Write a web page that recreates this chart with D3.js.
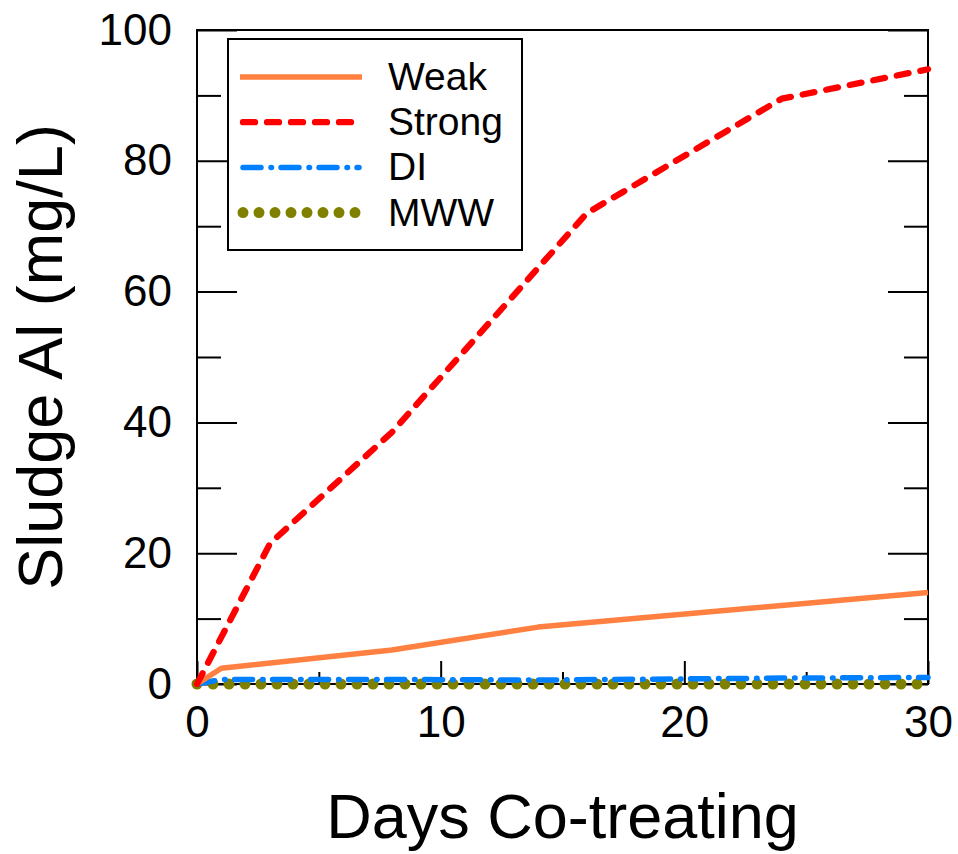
<!DOCTYPE html>
<html>
<head>
<meta charset="utf-8">
<script src="https://cdn.jsdelivr.net/npm/d3@7"></script>
<style>
	body { margin: 0; background: #fff; }
	text { font-family: "Liberation Sans", Arial, sans-serif; fill: #000; }
</style>
</head>
<body>
<div id="chart"></div>
<script>
// values
var weakDays = [0, 1, 8, 14, 30];
var weakAl = [0, 2.4, 5.2, 8.7, 14];

var strongDays = [0, 3, 8, 16, 24, 30];
var strongAl = [0, 21.5, 38.5, 72, 89.5, 94];

var diDays = [0, 1, 8, 14, 24, 30];
var diAl = [0, 0.7, 0.7, 0.6, 0.9, 1.0];

var mwwDays = [0, 30];
var mwwAl = [0, 0];

var seriesNames = ["Weak", "Strong", "DI", "MWW"];

var xMajor = [0, 10, 20, 30],
	xMinor = [5, 15, 25],
	yMajor = [0, 20, 40, 60, 80, 100],
	yMinor = [10, 30, 50, 70, 90];

var width = 958,
	height = 854,
	margin = {
		left: 197,
		top: 30,
		right: 30,
		bottom: 170
	};

var plotW = width - margin.left - margin.right,
	plotH = height - margin.top - margin.bottom;

var styles = {
	Weak: { color: "#ff8040", width: 5.5, dash: null, cap: "butt" },
	Strong: { color: "#ff0000", width: 6.3, dash: "12 12", cap: "round" },
	DI: { color: "#0080ff", width: 5.5, dash: "18 10 0.5 9.5", cap: "round" },
	MWW: { color: "#808000", width: 11, dash: "0 16", cap: "round" }
};

var series = {
	Weak: weakDays.map(function(d, i) { return { x: d, y: weakAl[i] }; }),
	Strong: strongDays.map(function(d, i) { return { x: d, y: strongAl[i] }; }),
	DI: diDays.map(function(d, i) { return { x: d, y: diAl[i] }; }),
	MWW: mwwDays.map(function(d, i) { return { x: d, y: mwwAl[i] }; })
};

var x = d3.scaleLinear().domain([0, 30]).range([0, plotW]);
var y = d3.scaleLinear().domain([0, 100]).range([plotH, 0]);

var svg = d3.select('#chart').append('svg')
	.attr('width', width)
	.attr('height', height);

var g = svg.append('g')
	.attr('transform', 'translate(' + margin.left + ',' + margin.top + ')');

// ticks inside the frame, major and minor
function styleAxis(sel) {
	sel.select('.domain').remove();
	sel.selectAll('line').attr('stroke', '#000').attr('stroke-width', 2);
	sel.selectAll('text')
		.style('font-family', '"Liberation Sans", Arial, sans-serif')
		.style('font-size', '44px')
		.attr('fill', '#000');
}

g.append('g')
	.call(d3.axisLeft(y).tickValues(yMajor).tickSize(-40).tickPadding(25).tickFormat(d3.format('d')))
	.call(styleAxis);
g.append('g')
	.call(d3.axisLeft(y).tickValues(yMinor).tickSize(-24).tickFormat(''))
	.call(styleAxis);
g.append('g')
	.attr('transform', 'translate(' + plotW + ',0)')
	.call(d3.axisRight(y).tickValues(yMajor).tickSize(-40).tickFormat(''))
	.call(styleAxis);
g.append('g')
	.attr('transform', 'translate(' + plotW + ',0)')
	.call(d3.axisRight(y).tickValues(yMinor).tickSize(-24).tickFormat(''))
	.call(styleAxis);
g.append('g')
	.attr('transform', 'translate(0,' + plotH + ')')
	.call(d3.axisBottom(x).tickValues(xMajor).tickSize(-23).tickPadding(22).tickFormat(d3.format('d')))
	.call(styleAxis);
g.append('g')
	.attr('transform', 'translate(0,' + plotH + ')')
	.call(d3.axisBottom(x).tickValues(xMinor).tickSize(-12).tickFormat(''))
	.call(styleAxis);

// frame
g.append('rect')
	.attr('width', plotW)
	.attr('height', plotH)
	.attr('fill', 'none')
	.attr('stroke', '#000')
	.attr('stroke-width', 2);

var line = d3.line()
	.x(function(d) { return x(d.x); })
	.y(function(d) { return y(d.y); });

["MWW", "DI", "Weak", "Strong"].forEach(function(name) {
	var s = styles[name];
	g.append('path')
		.datum(series[name])
		.attr('d', line)
		.attr('fill', 'none')
		.attr('stroke', s.color)
		.attr('stroke-width', s.width)
		.attr('stroke-linecap', s.cap)
		.attr('stroke-linejoin', 'round')
		.attr('stroke-dasharray', s.dash);
});

// legend
var legend = svg.append('g')
	.attr('transform', 'translate(228,39)');

legend.append('rect')
	.attr('width', 294)
	.attr('height', 211)
	.attr('fill', '#fff')
	.attr('stroke', '#000')
	.attr('stroke-width', 2);

var item = legend.selectAll('.item')
	.data(seriesNames)
	.enter().append('g')
	.attr('class', 'item')
	.attr('transform', function(d, i) { return 'translate(0,' + (38 + i * 45.2) + ')'; });

item.append('line')
	.attr('x1', function(d) { return styles[d].cap === 'round' ? 15 : 12; })
	.attr('x2', function(d) { return styles[d].cap === 'round' ? 131 : 134; })
	.attr('stroke', function(d) { return styles[d].color; })
	.attr('stroke-width', function(d) { return styles[d].width; })
	.attr('stroke-linecap', function(d) { return styles[d].cap; })
	.attr('stroke-dasharray', function(d) { return styles[d].dash; });

item.append('text')
	.attr('x', 160)
	.attr('y', 13)
	.style('font-size', '39px')
	.text(function(d) { return d; });

// axis titles
svg.append('text')
	.attr('x', margin.left + plotW / 2)
	.attr('y', 838)
	.attr('text-anchor', 'middle')
	.style('font-size', '63px')
	.text('Days Co-treating');

svg.append('text')
	.attr('transform', 'translate(62,' + (margin.top + plotH / 2) + ') rotate(-90)')
	.attr('text-anchor', 'middle')
	.style('font-size', '63px')
	.text('Sludge Al (mg/L)');
</script>
</body>
</html>
